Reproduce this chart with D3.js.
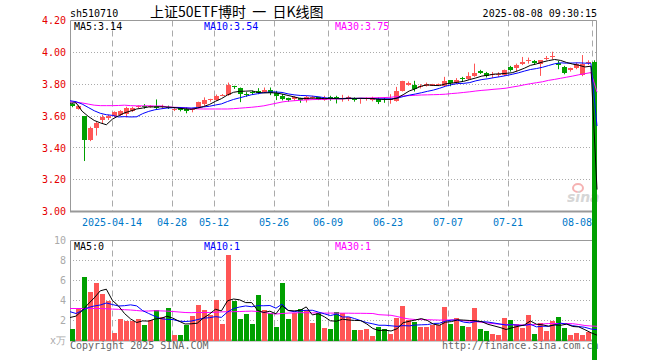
<!DOCTYPE html>
<html>
<head>
<meta charset="utf-8">
<script src="https://cdn.jsdelivr.net/npm/d3@7"></script>
<style>
  body { margin: 0; background: #fff; }
  svg { display: block; }
  text { font-family: "DejaVu Sans Mono", monospace; font-size: 10px; }
</style>
</head>
<body>
<script>
/* data */
let dates = [
  "2025-04-02","2025-04-03","2025-04-07","2025-04-08","2025-04-09","2025-04-10","2025-04-11","2025-04-14","2025-04-15","2025-04-16",
  "2025-04-17","2025-04-18","2025-04-21","2025-04-22","2025-04-23","2025-04-24","2025-04-25","2025-04-28","2025-04-29","2025-04-30",
  "2025-05-06","2025-05-07","2025-05-08","2025-05-09","2025-05-12","2025-05-13","2025-05-14","2025-05-15","2025-05-16","2025-05-19",
  "2025-05-20","2025-05-21","2025-05-22","2025-05-23","2025-05-26","2025-05-27","2025-05-28","2025-05-29","2025-05-30","2025-06-03",
  "2025-06-04","2025-06-05","2025-06-06","2025-06-09","2025-06-10","2025-06-11","2025-06-12","2025-06-13","2025-06-16","2025-06-17",
  "2025-06-18","2025-06-19","2025-06-20","2025-06-23","2025-06-24","2025-06-25","2025-06-26","2025-06-27","2025-06-30","2025-07-01",
  "2025-07-02","2025-07-03","2025-07-04","2025-07-07","2025-07-08","2025-07-09","2025-07-10","2025-07-11","2025-07-14","2025-07-15",
  "2025-07-16","2025-07-17","2025-07-18","2025-07-21","2025-07-22","2025-07-23","2025-07-24","2025-07-25","2025-07-28","2025-07-29",
  "2025-07-30","2025-07-31","2025-08-01","2025-08-04","2025-08-05","2025-08-06","2025-08-07","2025-08-08"
];
let open = [
  3.675,3.645,3.60,3.45,3.523,3.575,3.59,3.60,3.608,3.615,
  3.633,3.655,3.664,3.658,3.665,3.655,3.658,3.64,3.648,3.646,
  3.635,3.656,3.677,3.698,3.702,3.728,3.731,3.79,3.773,3.737,
  3.75,3.758,3.748,3.765,3.746,3.727,3.71,3.704,3.71,3.70,
  3.712,3.717,3.702,3.721,3.717,3.706,3.712,3.706,3.704,3.704,
  3.70,3.706,3.704,3.698,3.696,3.758,3.796,3.794,3.781,3.79,
  3.79,3.794,3.787,3.825,3.808,3.838,3.833,3.85,3.881,3.871,
  3.856,3.856,3.856,3.908,3.90,3.925,3.946,3.946,3.929,3.958,
  3.971,3.933,3.908,3.89,3.904,3.858,3.935,3.942
];
let high = [
  3.68,3.67,3.60,3.533,3.565,3.608,3.608,3.629,3.637,3.658,
  3.658,3.666,3.675,3.668,3.704,3.671,3.665,3.65,3.656,3.654,
  3.646,3.69,3.717,3.708,3.735,3.738,3.81,3.79,3.779,3.75,
  3.76,3.775,3.779,3.779,3.758,3.738,3.715,3.725,3.715,3.727,
  3.727,3.721,3.727,3.727,3.727,3.733,3.727,3.717,3.71,3.717,
  3.721,3.717,3.717,3.737,3.783,3.821,3.817,3.821,3.80,3.81,
  3.802,3.804,3.846,3.825,3.838,3.846,3.875,3.929,3.89,3.877,
  3.877,3.875,3.892,3.915,3.929,3.971,3.967,3.952,3.95,3.977,
  4.004,3.946,3.915,3.904,3.935,3.983,3.95,3.95
];
let low = [
  3.655,3.64,3.317,3.442,3.477,3.55,3.575,3.592,3.60,3.592,
  3.625,3.65,3.646,3.652,3.64,3.646,3.644,3.631,3.629,3.617,
  3.623,3.652,3.665,3.69,3.696,3.725,3.727,3.77,3.687,3.721,
  3.733,3.737,3.746,3.731,3.70,3.698,3.69,3.696,3.683,3.685,
  3.704,3.70,3.696,3.696,3.679,3.69,3.694,3.69,3.677,3.696,
  3.692,3.675,3.683,3.677,3.69,3.754,3.79,3.754,3.773,3.785,
  3.79,3.79,3.783,3.787,3.80,3.817,3.827,3.846,3.864,3.842,
  3.84,3.846,3.852,3.879,3.879,3.92,3.929,3.921,3.852,3.95,
  3.956,3.894,3.862,3.879,3.894,3.85,3.92,0
];
let close = [
  3.665,3.66,3.452,3.523,3.558,3.594,3.60,3.623,3.63,3.652,
  3.652,3.662,3.656,3.664,3.65,3.66,3.65,3.647,3.64,3.629,
  3.644,3.685,3.698,3.706,3.725,3.733,3.796,3.783,3.737,3.731,
  3.744,3.746,3.765,3.746,3.725,3.706,3.702,3.721,3.70,3.721,
  3.717,3.70,3.706,3.71,3.712,3.712,3.717,3.702,3.71,3.71,
  3.712,3.69,3.698,3.708,3.758,3.817,3.806,3.767,3.79,3.80,
  3.798,3.80,3.821,3.81,3.829,3.831,3.854,3.871,3.871,3.854,
  3.864,3.864,3.888,3.888,3.92,3.942,3.95,3.935,3.95,3.963,
  3.977,3.921,3.871,3.90,3.925,3.925,3.942,0
];
let volume = [
  1.14,3.14,6.35,4.88,5.79,4.68,3.95,0.74,2.14,1.97,
  2.0,2.14,1.54,2.04,3.04,2.31,3.24,0.54,0.54,1.6,
  2.44,3.55,3.04,2.54,4.05,1.64,8.56,3.98,2.14,2.64,
  1.64,4.55,3.04,2.78,1.34,5.75,2.14,2.78,3.11,3.04,
  1.74,2.71,1.24,1.14,2.84,2.71,2.31,1.04,1.07,1.14,
  0.43,1.34,1.2,0.64,2.27,3.44,2.04,1.84,1.34,1.34,
  1.6,1.54,3.34,1.64,2.24,1.44,1.34,3.24,1.14,0.94,
  0.64,0.54,2.24,2.04,1.64,1.27,2.54,0.64,1.74,0.94,
  1.94,2.34,1.24,0.54,0.74,0.54,0.84,0
];
let ma5 = [
  3.68,3.683,3.63,3.598,3.572,3.557,3.545,3.58,3.601,3.62,
  3.631,3.644,3.65,3.657,3.657,3.658,3.656,3.654,3.649,3.645,
  3.642,3.649,3.659,3.672,3.692,3.709,3.732,3.749,3.755,3.756,
  3.758,3.748,3.745,3.746,3.745,3.738,3.729,3.72,3.711,3.71,
  3.712,3.712,3.709,3.711,3.709,3.708,3.711,3.711,3.711,3.71,
  3.71,3.705,3.704,3.704,3.713,3.734,3.757,3.771,3.788,3.796,
  3.792,3.791,3.802,3.806,3.812,3.818,3.829,3.839,3.851,3.856,
  3.863,3.865,3.868,3.872,3.885,3.90,3.918,3.927,3.939,3.948,
  3.955,3.949,3.936,3.926,3.919,3.908,3.913,3.138
];
let ma10 = [
  3.696,3.69,3.675,3.654,3.633,3.617,3.608,3.604,3.594,3.596,
  3.594,3.595,3.615,3.629,3.639,3.645,3.65,3.652,3.653,3.651,
  3.65,3.653,3.657,3.661,3.669,3.676,3.691,3.704,3.714,3.724,
  3.734,3.74,3.747,3.751,3.751,3.748,3.739,3.733,3.729,3.728,
  3.725,3.721,3.715,3.711,3.71,3.71,3.712,3.71,3.711,3.71,
  3.709,3.708,3.708,3.708,3.712,3.722,3.731,3.738,3.746,3.755,
  3.763,3.774,3.787,3.797,3.804,3.805,3.81,3.821,3.829,3.834,
  3.841,3.847,3.854,3.862,3.871,3.882,3.892,3.898,3.906,3.917,
  3.928,3.934,3.932,3.933,3.934,3.932,3.931,3.537
];
let ma30 = [
  3.69,3.686,3.682,3.675,3.668,3.665,3.665,3.665,3.666,3.668,
  3.665,3.664,3.664,3.664,3.663,3.663,3.658,3.655,3.654,3.652,
  3.647,3.645,3.644,3.644,3.644,3.644,3.644,3.646,3.649,3.652,
  3.655,3.659,3.664,3.672,3.68,3.688,3.693,3.696,3.699,3.701,
  3.703,3.704,3.705,3.706,3.707,3.708,3.709,3.71,3.712,3.713,
  3.714,3.715,3.716,3.718,3.722,3.726,3.728,3.73,3.732,3.733,
  3.734,3.735,3.737,3.741,3.744,3.748,3.752,3.757,3.761,3.764,
  3.768,3.771,3.775,3.782,3.788,3.796,3.803,3.809,3.815,3.824,
  3.83,3.837,3.844,3.851,3.859,3.866,3.873,3.75
];
let volMa5 = [
  2.3,2.44,2.98,3.65,4.26,4.97,5.13,4.01,3.46,2.70,
  2.16,1.80,1.96,1.94,2.15,2.21,2.43,2.23,1.93,1.65,
  1.67,1.73,2.23,2.63,3.12,2.96,3.97,4.15,4.07,3.79,
  3.79,2.99,2.80,2.93,2.67,3.49,3.01,2.96,3.02,3.36,
  2.56,2.68,2.37,1.97,1.93,2.13,2.05,2.01,1.99,1.65,
  1.20,1.00,1.04,0.95,1.18,1.78,1.92,2.05,2.19,2.0,
  1.63,1.53,1.83,1.89,2.07,2.04,2.0,1.98,1.88,1.62,
  1.46,1.30,1.10,1.28,1.42,1.55,1.95,1.63,1.57,1.43,
  1.56,1.52,1.64,1.40,1.36,1.08,0.78,0.53
];
let volMa10 = [
  2.88,2.7,3.0,3.3,3.45,3.55,3.75,3.6,3.45,3.48,
  3.565,3.465,2.985,2.70,2.425,2.185,2.115,2.095,1.935,1.90,
  1.94,2.08,2.23,2.28,2.385,2.315,2.85,3.19,3.35,3.455,
  3.375,3.48,3.475,3.50,3.23,3.64,3.00,2.88,2.975,3.015,
  3.025,2.845,2.665,2.495,2.645,2.345,2.365,2.19,1.98,1.79,
  1.665,1.525,1.525,1.47,1.415,1.49,1.46,1.545,1.57,1.59,
  1.705,1.725,1.94,2.04,2.035,1.835,1.765,1.905,1.885,1.845,
  1.75,1.65,1.54,1.58,1.52,1.505,1.625,1.365,1.425,1.425,
  1.555,1.735,1.635,1.485,1.395,1.32,1.15,1.085
];
let volMa30 = [
  3.2,3.2,3.2,3.2,3.2,3.2,3.17,3.14,3.12,3.08,
  3.05,3.0,2.94,2.95,2.98,2.96,2.94,2.9,2.85,2.8,
  2.78,2.8,2.8,2.8,2.82,2.86,2.88,2.88,2.9,2.92,
  2.94,2.9,2.82,2.7,2.65,2.7,2.74,2.76,2.78,2.78,
  2.76,2.76,2.74,2.74,2.74,2.73,2.73,2.72,2.72,2.71,
  2.7,2.58,2.55,2.52,2.4,2.25,2.15,2.1,2.1,2.08,
  2.06,2.04,2.05,2.06,2.03,1.98,1.93,1.88,1.82,1.75,
  1.68,1.62,1.6,1.58,1.56,1.55,1.56,1.6,1.65,1.7,
  1.7,1.7,1.7,1.68,1.6,1.5,1.45,1.42
];
let priceTicks = [3.0, 3.2, 3.4, 3.6, 3.8, 4.0, 4.2];
let volTicks = [0, 2, 4, 6, 8, 10];
let tickDates = ["2025-04-14","2025-04-28","2025-05-12","2025-05-26","2025-06-09","2025-06-23","2025-07-07","2025-07-21","2025-08-08"];
/* data */

let width = 660;
let height = 360;
let left = 70;
let right = 597;
let redColor = "#ff5555";
let greenColor = "#00a000";
let gridColor = "#aaaaaa";
let frameColor = "#999999";

let svg = d3.select("body").append("svg")
  .attr("width", width)
  .attr("height", height);

/* scales */
let x = d3.scaleBand().domain(dates).range([left, left + 6 * dates.length]);
let xLine = d3.scaleLinear().domain([0, dates.length - 1]).range([left, right]);
let yPrice = d3.scaleLinear().domain([3.0, 4.2]).range([211.5, 20.5]);
let yVol = d3.scaleLinear().domain([0, 10]).range([340.5, 240.5]);

let crisp = v => Math.round(v - 0.5) + 0.5;

/* grid */
let grid = svg.append("g").attr("stroke", gridColor).attr("fill", "none");
grid.selectAll("line.hp")
  .data(priceTicks.slice(1, -1))
  .join("line")
  .attr("x1", left).attr("x2", right + 1)
  .attr("y1", d => crisp(yPrice(d))).attr("y2", d => crisp(yPrice(d)))
  .attr("stroke-dasharray", "1,2");
grid.selectAll("line.hv")
  .data(volTicks.slice(1, -1))
  .join("line")
  .attr("x1", left).attr("x2", right + 1)
  .attr("y1", d => crisp(yVol(d))).attr("y2", d => crisp(yVol(d)))
  .attr("stroke-dasharray", "1,2");
[[20.5, 211], [240.5, 340]].forEach(([y1, y2]) => {
  grid.append("g").selectAll("line")
    .data(tickDates)
    .join("line")
    .attr("x1", d => x(d) + 0.5).attr("x2", d => x(d) + 0.5)
    .attr("y1", y1).attr("y2", y2)
    .attr("stroke-dasharray", "6,4");
});

/* frames */
[[20.5, 211.5], [240.5, 340.5]].forEach(([top, bottom]) => {
  let f = svg.append("g").attr("stroke", frameColor).attr("fill", "none");
  f.append("path").attr("d", `M${left + 0.5},${bottom}V${top}H${right - 0.5}V${bottom}`);
  f.append("line").attr("x1", left).attr("x2", right).attr("y1", bottom).attr("y2", bottom).attr("stroke-width", 2);
});

/* axes */
let axisPrice = d3.axisLeft(yPrice).tickValues(priceTicks).tickSize(0).tickPadding(4).tickFormat(d3.format(".2f"));
svg.append("g")
  .attr("transform", "translate(" + left + ",0)")
  .call(axisPrice)
  .call(g => g.select(".domain").remove())
  .selectAll("text").attr("fill", "#e60000").style("font-family", "DejaVu Sans Mono").style("font-size", "10px");

let axisVol = d3.axisLeft(yVol).tickValues(volTicks).tickSize(0).tickPadding(4).tickFormat(d => d === 0 ? "x万" : d);
svg.append("g")
  .attr("transform", "translate(" + left + ",0)")
  .call(axisVol)
  .call(g => g.select(".domain").remove())
  .selectAll("text").attr("fill", "#aaaaaa").style("font-family", "DejaVu Sans Mono").style("font-size", "10px");

let axisDate = d3.axisBottom(x).tickValues(tickDates).tickSize(0).tickPadding(7)
  .tickFormat((d, i) => i === 0 ? d : d.slice(5));
svg.append("g")
  .attr("transform", "translate(" + (-x.bandwidth() / 2) + ",211.5)")
  .call(axisDate)
  .call(g => g.select(".domain").remove())
  .selectAll("text")
  .attr("fill", "#0078c8")
  .attr("text-anchor", (d, i) => i === tickDates.length - 1 ? "end" : "middle")
  .style("font-family", "DejaVu Sans Mono").style("font-size", "10px");

/* texts */
svg.append("text").attr("x", 70).attr("y", 17).attr("fill", "#000").text("sh510710");
svg.append("text").attr("x", 150).attr("y", 17).attr("fill", "#000")
  .style("font-family", "'Noto Sans CJK SC', sans-serif").style("font-size", "14px")
  .style("white-space", "pre")
  .text("上证50ETF博时  一  日K线图");
svg.append("text").attr("x", right).attr("y", 17).attr("text-anchor", "end").attr("fill", "#000")
  .text("2025-08-08 09:30:15");

let legendPrice = [["MA5:3.14", "#000000", 74], ["MA10:3.54", "#0000ff", 204], ["MA30:3.75", "#ff00ff", 335]];
let legendVol = [["MA5:0", "#000000", 74], ["MA10:1", "#0000ff", 204], ["MA30:1", "#ff00ff", 335]];
svg.append("g").selectAll("text").data(legendPrice).join("text")
  .attr("x", d => d[2]).attr("y", 30).attr("fill", d => d[1]).text(d => d[0]);
svg.append("g").selectAll("text").data(legendVol).join("text")
  .attr("x", d => d[2]).attr("y", 250).attr("fill", d => d[1]).text(d => d[0]);

svg.append("text").attr("x", 70).attr("y", 349).attr("fill", "#666").text("Copyright 2025 SINA.COM");
svg.append("text").attr("x", 442).attr("y", 349).attr("fill", "#666").text("http://finance.sina.com.cn");

/* sina watermark */
let logo = svg.append("g").attr("opacity", 0.6);
logo.append("ellipse").attr("cx", 578).attr("cy", 188).attr("rx", 5).attr("ry", 4)
  .attr("fill", "none").attr("stroke", "#f08080").attr("stroke-width", 2);
logo.append("text").attr("x", 567).attr("y", 202).attr("fill", "#bbbbbb")
  .style("font-family", "'DejaVu Sans', sans-serif").style("font-size", "14px")
  .style("font-style", "italic").style("font-weight", "bold").text("sina");

/* volume bars */
let barColor = i => close[i] >= open[i] ? redColor : greenColor;
svg.append("g").selectAll("rect")
  .data(volume)
  .join("rect")
  .attr("x", (d, i) => x(dates[i]))
  .attr("width", x.bandwidth() - 1)
  .attr("y", d => Math.round(yVol(d)))
  .attr("height", d => Math.max(0, Math.round(yVol(0)) - Math.round(yVol(d))))
  .attr("fill", (d, i) => barColor(i));

/* candles */
let candles = svg.append("g").selectAll("g")
  .data(dates)
  .join("g");
candles.append("line")
  .attr("x1", d => x(d) + 2.5).attr("x2", d => x(d) + 2.5)
  .attr("y1", (d, i) => yPrice(high[i])).attr("y2", (d, i) => yPrice(low[i]))
  .attr("stroke", (d, i) => barColor(i));
candles.append("rect")
  .attr("x", d => x(d))
  .attr("width", x.bandwidth() - 1)
  .attr("y", (d, i) => Math.round(yPrice(Math.max(open[i], close[i]))))
  .attr("height", (d, i) => Math.max(1, Math.round(yPrice(Math.min(open[i], close[i]))) - Math.round(yPrice(Math.max(open[i], close[i])))))
  .attr("fill", (d, i) => barColor(i));

/* moving averages */
let drawLine = (values, y, color) => {
  svg.append("path")
    .datum(values)
    .attr("fill", "none")
    .attr("stroke", color)
    .attr("stroke-width", 1)
    .attr("d", d3.line().x((d, i) => xLine(i)).y(d => y(d)));
};
drawLine(volMa30, yVol, "#ff00ff");
drawLine(volMa10, yVol, "#0000ff");
drawLine(volMa5, yVol, "#000000");
drawLine(ma30, yPrice, "#ff00ff");
drawLine(ma10, yPrice, "#0000ff");
drawLine(ma5, yPrice, "#000000");
</script>
</body>
</html>
